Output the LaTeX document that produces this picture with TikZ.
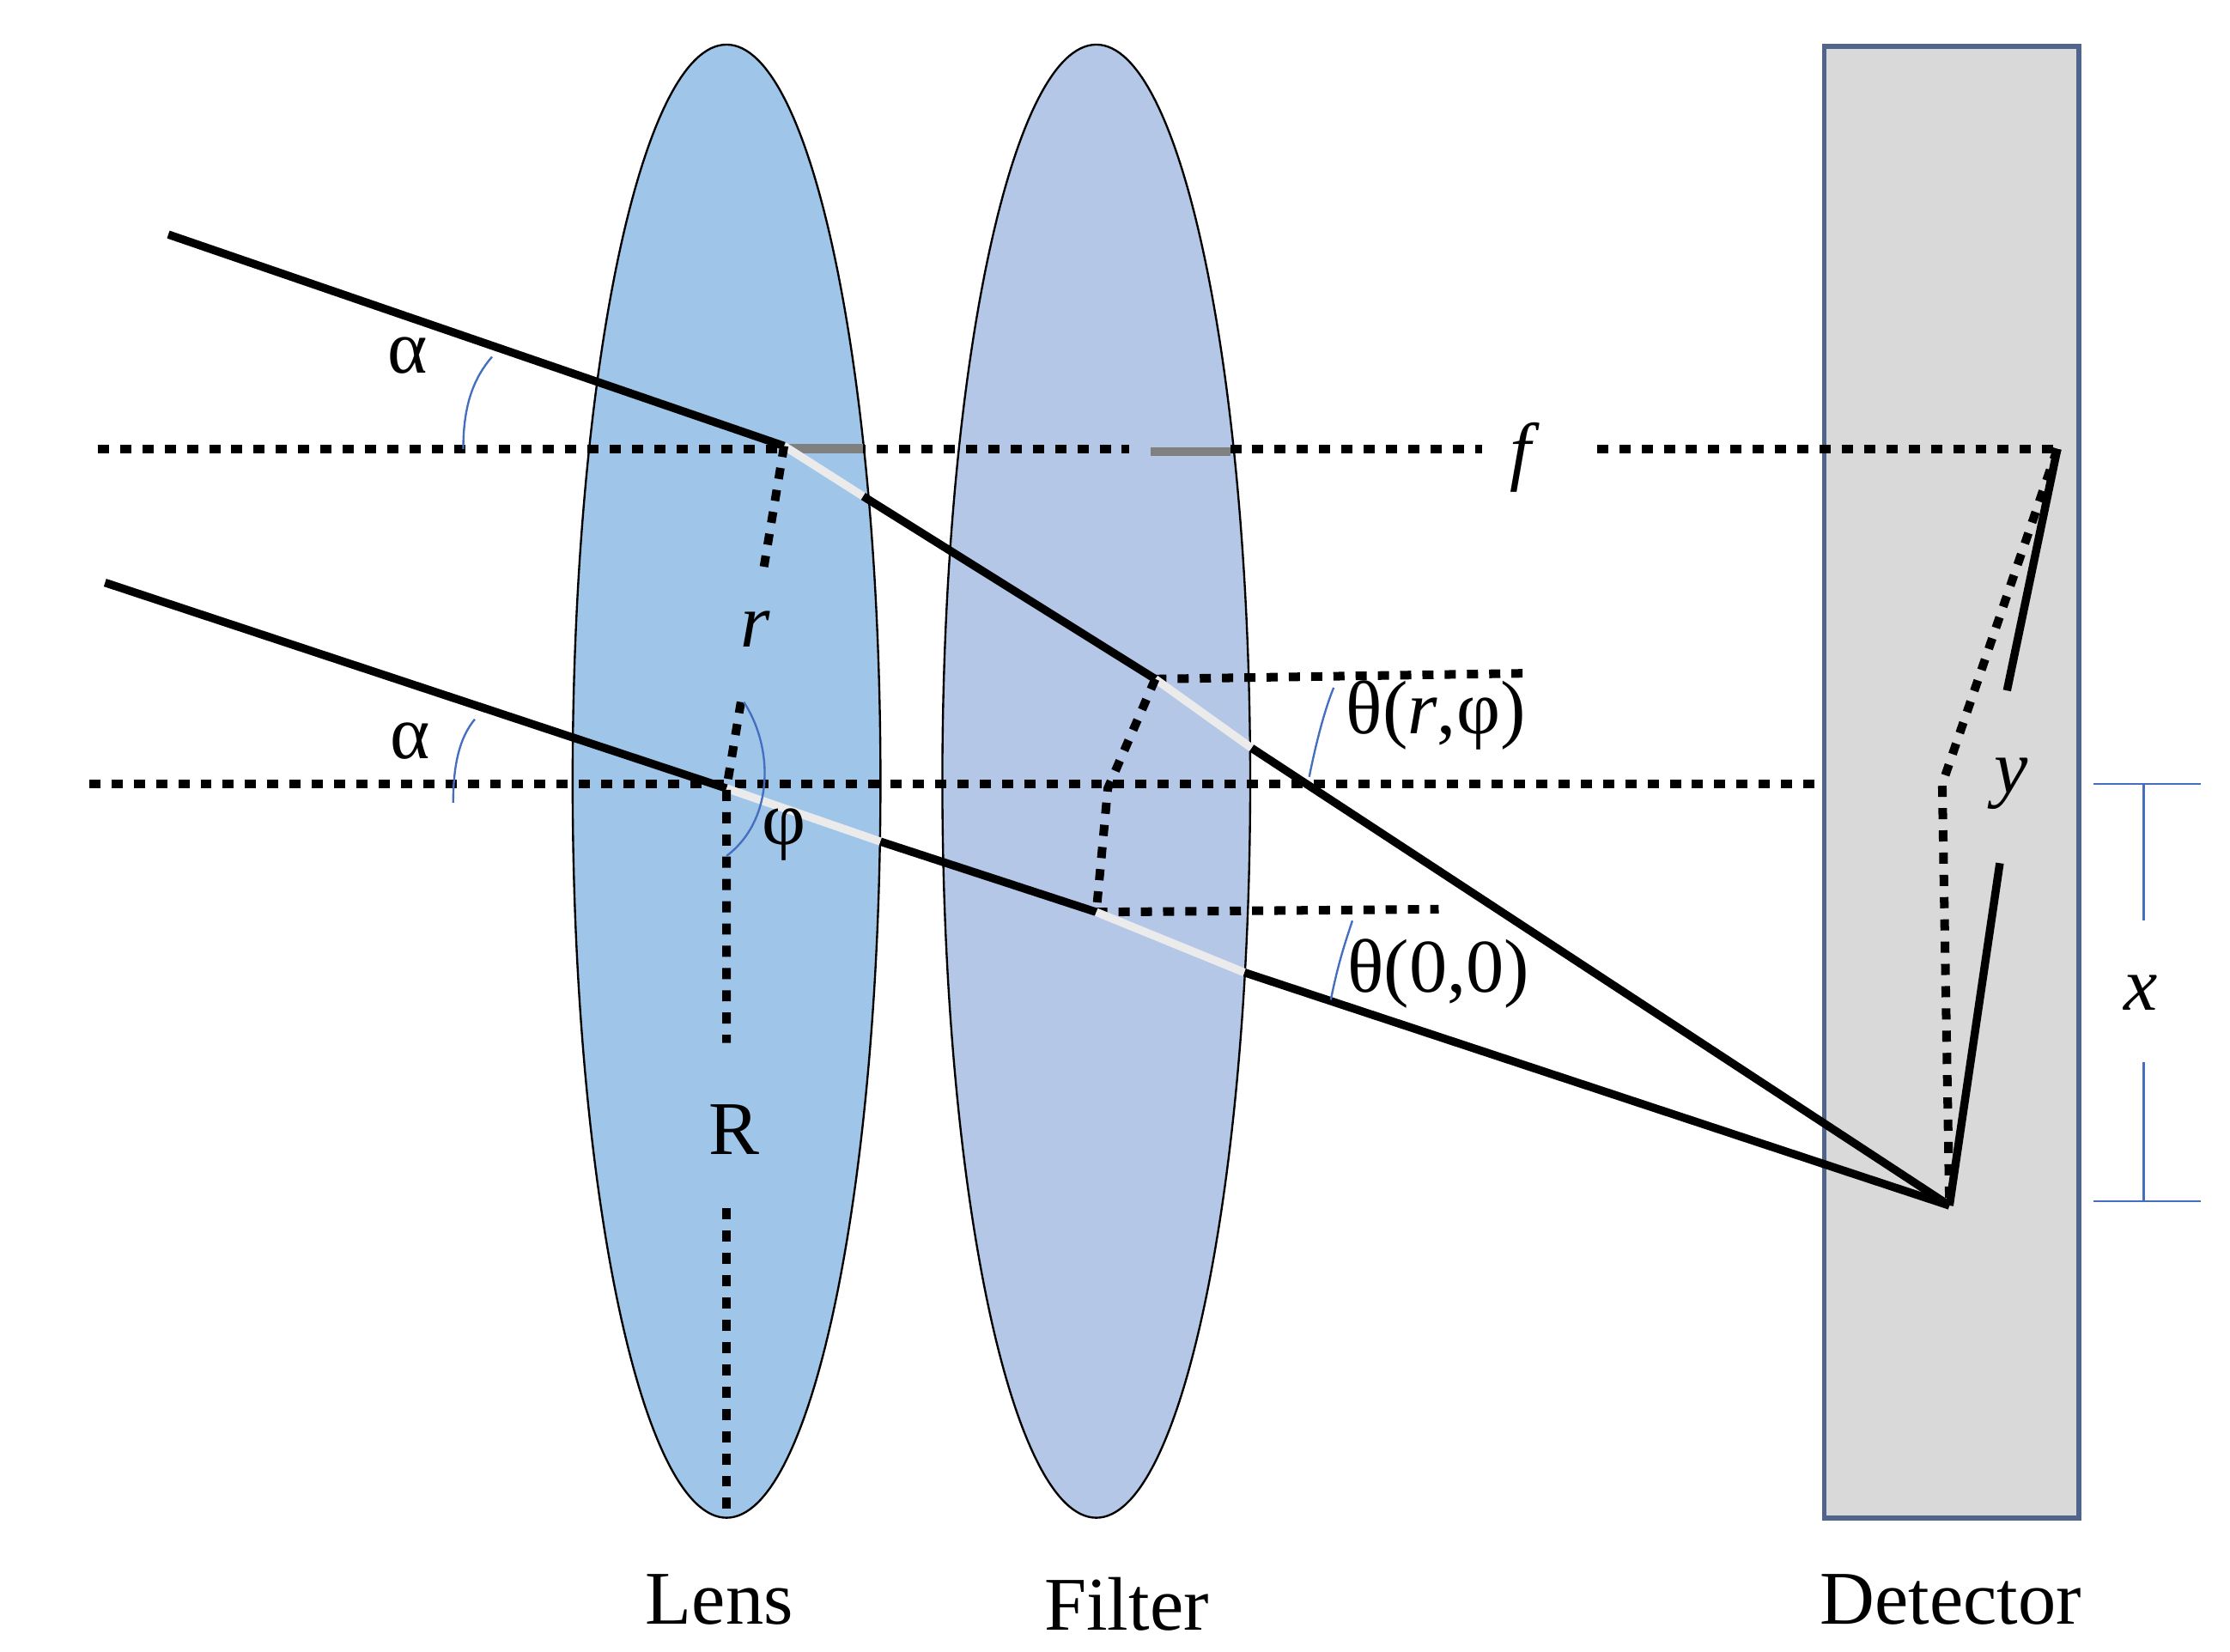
\documentclass[tikz,border=0pt]{standalone}
\usepackage{fontspec}
\setmainfont{Liberation Serif}
\definecolor{lensblue}{RGB}{159,197,232}
\definecolor{filterblue}{RGB}{180,199,231}
\definecolor{detgray}{RGB}{217,217,217}
\definecolor{detedge}{RGB}{80,100,140}
\definecolor{anglecol}{RGB}{70,110,190}
\tikzset{
  ray/.style={line width=1.6pt},
  lit/.style={line width=1.6pt, color=black!8},
  guide/.style={line width=1.7pt, dash pattern=on 2.2pt off 2.2pt},
  angle/.style={anglecol, line width=0.4pt},
  lbl/.style={font=\fontsize{15}{18}\selectfont, inner sep=0pt},
}
\begin{document}
\begin{tikzpicture}[x=0.01cm,y=-0.01cm]
    \useasboundingbox (0,0) rectangle (1550,1148);

    % Optics
    \draw[fill=lensblue] (505,543) ellipse (107 and 512);
    \draw[fill=filterblue] (762,543) ellipse (107 and 512);
    \draw[fill=detgray, draw=detedge, line width=1pt] (1268,32) rectangle (1445,1055);

    % Points
    \coordinate (A1) at (545,310);
    \coordinate (A2) at (505,548);
    \coordinate (B1) at (803,472);
    \coordinate (B2) at (762,634);
    \coordinate (D) at (1355,838);
    \coordinate (F) at (1430,312);

    % Axes
    \draw[guide] (68,312) -- (785,312);
    \draw[guide] (855,312) -- (1030,312);
    \draw[guide] (1110,312) -- (F);
    \draw[gray, line width=1.8pt] (548,312) -- (600,312) (800,314) -- (855,314);
    \draw[guide] (62,545) -- (1268,545);
    \draw[guide] (B1) -- (1060,468);
    \draw[guide] (B2) -- (1000,632);

    % Rays
    \draw[ray] (117,163) -- (A1);
    \draw[lit] (A1) -- (600,345);
    \draw[ray] (600,345) -- (B1);
    \draw[lit] (B1) -- (870,520);
    \draw[ray] (870,520) -- (D);
    \draw[ray] (73,405) -- (A2);
    \draw[lit] (A2) -- (612,585);
    \draw[ray] (612,585) -- (B2);
    \draw[lit] (B2) -- (865,676);
    \draw[ray] (865,676) -- (D);

    % Radii
    \draw[guide] (A1) -- (530,400);
    \draw[guide] (515,488) -- (A2) -- (505,725);
    \draw[guide] (505,840) -- (505,1055);
    \draw[guide] (B1) -- (770,548) -- (B2);
    \draw[guide] (F) -- (1350,545) -- (D);
    \draw[ray] (F) -- (1395,480);
    \draw[ray] (1390,600) -- (D);

    % Angles
    \draw[angle] (322,312) .. controls (322,280) and (330,262) .. (342,248);
    \draw[angle] (315,558) .. controls (315,530) and (320,512) .. (330,500);
    \draw[angle] (517,488) .. controls (538,520) and (538,570) .. (505,595);
    \draw[angle] (910,540) .. controls (914,520) and (920,495) .. (927,478);
    \draw[angle] (925,695) .. controls (930,670) and (935,655) .. (940,640);

    % Dimension x
    \draw[angle] (1455,545) -- (1530,545);
    \draw[angle] (1455,835) -- (1530,835);
    \draw[angle] (1490,545) -- (1490,640);
    \draw[angle] (1490,738) -- (1490,835);

    % Labels
    \node[lbl] (alpha1) at (283,247) {α};
    \node[lbl] (alpha2) at (285,515) {α};
    \node[lbl] (rlbl) at (525,437) {\textit{r}};
    \node[lbl] (Rlbl) at (510,785) {R};
    \node[lbl] (philbl) at (545,580) {φ};
    \node[lbl] (flbl) at (1060,318) {\textit{f}};
    \node[lbl] (thetar) at (998,497) {θ(\textit{r},φ)};
    \node[lbl] (theta0) at (1000,677) {θ(0,0)};
    \node[lbl] (ylbl) at (1398,545) {\textit{y}};
    \node[lbl] (xlbl) at (1488,690) {\textit{x}};
    \node[lbl] (lens) at (500,1112) {Lens};
    \node[lbl] (filter) at (783,1115) {Filter};
    \node[lbl] (detector) at (1356,1112) {Detector};
\end{tikzpicture}
\end{document}
